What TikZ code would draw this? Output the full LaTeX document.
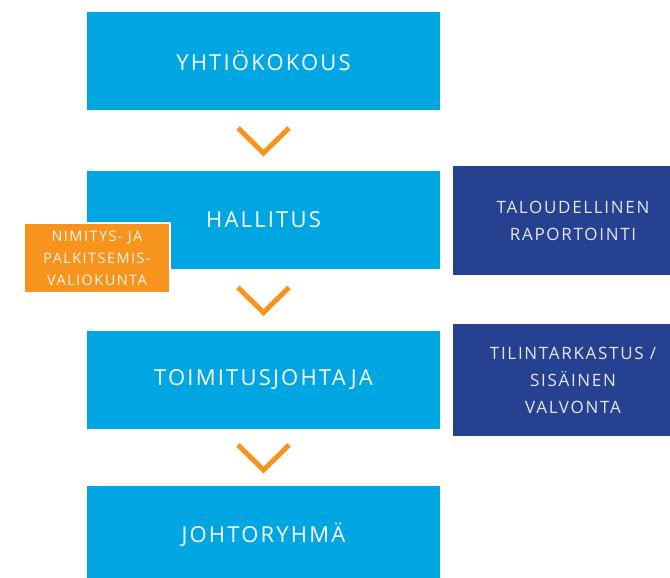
\documentclass[tikz,border=0pt]{standalone}
\usepackage{fontspec}
\setmainfont{Open Sans}
\newfontfamily\boxfont[LetterSpace=10]{Open Sans}
\usetikzlibrary{calc,positioning}
\definecolor{blue1}{RGB}{0,166,226}
\definecolor{navy1}{RGB}{38,65,143}
\definecolor{orange1}{RGB}{247,148,30}

\begin{document}
\begin{tikzpicture}[x=1pt, y=-1pt,
    mainbox/.style={rectangle, fill=blue1, text=white, minimum width=353pt,
      minimum height=98pt, font=\boxfont\fontsize{22}{26}\selectfont},
    sidebox/.style={rectangle, fill=navy1, text=white!88!navy1, minimum width=240pt,
      align=center, font=\boxfont\fontsize{17}{27}\selectfont},
    notebox/.style={rectangle, fill=orange1, draw=white, line width=2pt,
      text=white!92!orange1, minimum width=146pt, minimum height=70pt,
      align=center, font=\boxfont\fontsize{14.5}{22}\selectfont},
    chevron/.style={draw=orange1, line width=5pt}
]
\useasboundingbox (0,0) rectangle (670,578);

% main chain
\node[mainbox] (yk)  at (263.5,61)  {YHTIÖKOKOUS};
\node[mainbox] (hal) at (263.5,220) {HALLITUS};
\node[mainbox] (tj)  at (263.5,380) {TOIMITUSJOHTAJA};
\node[mainbox] (jr)  at (263.5,535) {JOHTORYHMÄ};

% side boxes
\node[sidebox, minimum height=109pt] (tr) at (573,220.5) {TALOUDELLINEN\\RAPORTOINTI};
\node[sidebox, minimum height=112pt] (tv) at (573,380) {TILINTARKASTUS /\\SISÄINEN\\VALVONTA};
\node[notebox] (npv) at (97,258) {NIMITYS- JA\\PALKITSEMIS-\\VALIOKUNTA};

\foreach \a/\b in {yk/hal, hal/tj, tj/jr} {
    \draw[chevron] ($(\a.south)!0.5!(\b.north)$) +(-25.5,-12.5) -- +(0,12.5) -- +(25.5,-12.5);
}

\end{tikzpicture}
\end{document}
